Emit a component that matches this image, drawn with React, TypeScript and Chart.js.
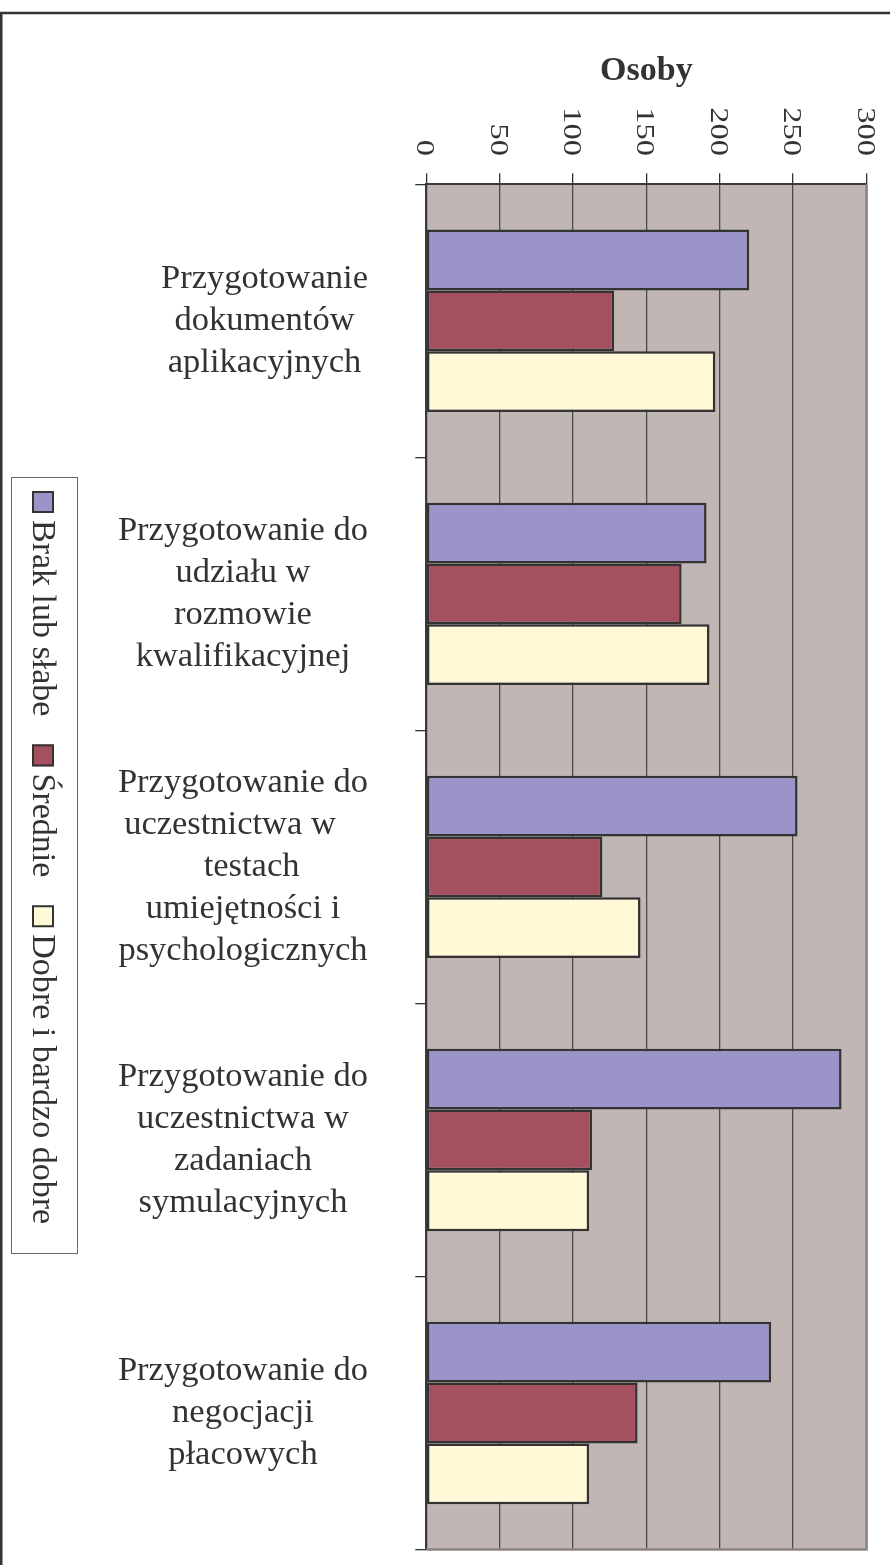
import React, { useEffect, useRef } from 'react';
import { Chart, registerables } from 'chart.js';

Chart.register(...registerables);

// ---------- data ----------
const categoryLines: string[][] = [
  ['Przygotowanie', 'dokumentów', 'aplikacyjnych'],
  ['Przygotowanie do', 'udziału w', 'rozmowie', 'kwalifikacyjnej'],
  ['Przygotowanie do', 'uczestnictwa w   ', '  testach', 'umiejętności i', 'psychologicznych'],
  ['Przygotowanie do', 'uczestnictwa w', 'zadaniach', 'symulacyjnych'],
  ['Przygotowanie do', 'negocjacji', 'płacowych'],
];
const seriesNames = ['Brak lub słabe', 'Średnie', 'Dobre i bardzo dobre'];
const brakLubSlabe = [220, 191, 253, 283, 235];
const srednie = [128, 174, 120, 113, 144];
const dobreIBardzoDobre = [197, 193, 146, 111, 111];
const xTickValues = [0, 50, 100, 150, 200, 250, 300];
const xTickLabels = ['0', '50', '100', '150', '200', '250', '300'];
const axisTitle = 'Osoby';

// ---------- styles ----------
const seriesColors = ['#9B94C9', '#A5505F', '#FFF9D7'];
const FONT = '"Liberation Serif", "Times New Roman", serif';
const TEXT = '#333333';

const decorPlugin = {
  id: 'decor',
  beforeDraw(chart: any) {
    const { ctx, chartArea } = chart;
    ctx.save();
    // outer frame
    ctx.strokeStyle = '#333333';
    ctx.lineWidth = 2.5;
    ctx.strokeRect(1.25, 13, 2000, 3000);
    // plot background
    ctx.fillStyle = '#C0B7B5';
    ctx.fillRect(chartArea.left, chartArea.top, chartArea.right - chartArea.left, chartArea.bottom - chartArea.top);
    ctx.restore();
  },
  beforeDatasetsDraw(chart: any) {
    const { ctx, chartArea } = chart;
    ctx.save();
    ctx.strokeStyle = '#8C8482';
    ctx.lineWidth = 2.5;
    ctx.beginPath();
    ctx.moveTo(chartArea.right, chartArea.top);
    ctx.lineTo(chartArea.right, chartArea.bottom);
    ctx.lineTo(chartArea.left, chartArea.bottom);
    ctx.stroke();
    ctx.restore();
  },
  afterDraw(chart: any) {
    const { ctx } = chart;
    const xs = chart.scales.x;
    const ys = chart.scales.y;
    ctx.save();
    ctx.fillStyle = TEXT;

    // x tick labels, rotated clockwise, ending near the axis
    ctx.font = `26px ${FONT}`;
    xTickValues.forEach((v, i) => {
      const px = xs.getPixelForValue(v);
      ctx.save();
      ctx.translate(px, 156);
      ctx.rotate(Math.PI / 2);
      ctx.scale(1.25, 1);
      ctx.textAlign = 'right';
      ctx.textBaseline = 'alphabetic';
      ctx.fillText(xTickLabels[i], 0, 9);
      ctx.restore();
    });

    // category labels: block right-aligned, lines centered inside block
    ctx.font = `34.5px ${FONT}`;
    ctx.textAlign = 'center';
    ctx.textBaseline = 'middle';
    const lineH = 42;
    const blockRight = 368;
    categoryLines.forEach((lines, i) => {
      const cy = ys.getPixelForValue(i);
      const widest = Math.max(...lines.map((l) => ctx.measureText(l.trim()).width));
      const cx = blockRight - widest / 2;
      const y0 = cy - ((lines.length - 1) * lineH) / 2;
      lines.forEach((l, j) => ctx.fillText(l, cx, y0 + j * lineH));
    });

    // legend (rotated)
    ctx.strokeStyle = '#6a6a6a';
    ctx.lineWidth = 1;
    ctx.strokeRect(11.5, 477.5, 66, 776);
    ctx.font = `34px ${FONT}`;
    let y = 491;
    chart.data.datasets.forEach((ds: any) => {
      ctx.fillStyle = ds.backgroundColor;
      ctx.fillRect(32, y, 22, 22);
      ctx.strokeStyle = '#333333';
      ctx.lineWidth = 2;
      ctx.strokeRect(33, y + 1, 20, 20);
      const ty = y + 29;
      ctx.save();
      ctx.translate(33, ty);
      ctx.rotate(Math.PI / 2);
      ctx.fillStyle = TEXT;
      ctx.textAlign = 'left';
      ctx.textBaseline = 'alphabetic';
      ctx.fillText(ds.label, 0, 0);
      ctx.restore();
      y = ty + ctx.measureText(ds.label).width + 28;
    });
    ctx.restore();
  },
};

export default function App() {
  const ref = useRef<HTMLCanvasElement>(null);
  useEffect(() => {
    const values = [brakLubSlabe, srednie, dobreIBardzoDobre];
    const chart = new Chart(ref.current as HTMLCanvasElement, {
      type: 'bar',
      data: {
        labels: categoryLines.map((c) => c.map((s) => s.trim()).join(' ')),
        datasets: seriesNames.map((name, i) => ({
          label: name,
          data: values[i],
          backgroundColor: seriesColors[i],
          borderColor: '#333333',
          borderWidth: 2.5,
          borderSkipped: false,
          categoryPercentage: 0.668,
          barPercentage: 1.0,
        })),
      },
      options: {
        indexAxis: 'y',
        animation: false,
        responsive: false,
        layout: { padding: { left: 0, top: 0, right: 23.5, bottom: 15.5 } },
        plugins: {
          legend: { display: false },
          tooltip: { enabled: false },
          title: { display: false },
        },
        scales: {
          x: {
            position: 'top',
            min: 0,
            max: 300,
            ticks: { display: false, stepSize: 50 },
            grid: {
              color: '#4f4a4a',
              lineWidth: 1.3,
              drawTicks: true,
              tickLength: 11,
              tickColor: '#333333',
              tickWidth: 1.3,
            },
            border: { display: true, color: '#3a3a3a', width: 2 },
            title: {
              display: true,
              text: axisTitle,
              color: TEXT,
              font: { family: FONT, size: 34, weight: 'bold' },
              padding: { top: 51, bottom: 0 },
            },
            afterFit: (s: any) => {
              s.height = 184.3;
            },
          },
          y: {
            ticks: { display: false },
            grid: {
              offset: true,
              drawOnChartArea: false,
              drawTicks: true,
              tickLength: 11,
              color: '#333333',
              tickColor: '#333333',
              lineWidth: 1.3,
            },
            border: { display: true, color: '#3a3a3a', width: 2 },
            afterFit: (s: any) => {
              s.width = 426.3;
            },
          },
        },
      },
      plugins: [decorPlugin],
    } as any);
    return () => chart.destroy();
  }, []);
  return (
    <div style={{ position: 'absolute', left: 0, top: 0, width: 890, height: 1565 }}>
      <canvas ref={ref} width={890} height={1565} style={{ display: 'block' }} />
    </div>
  );
}
